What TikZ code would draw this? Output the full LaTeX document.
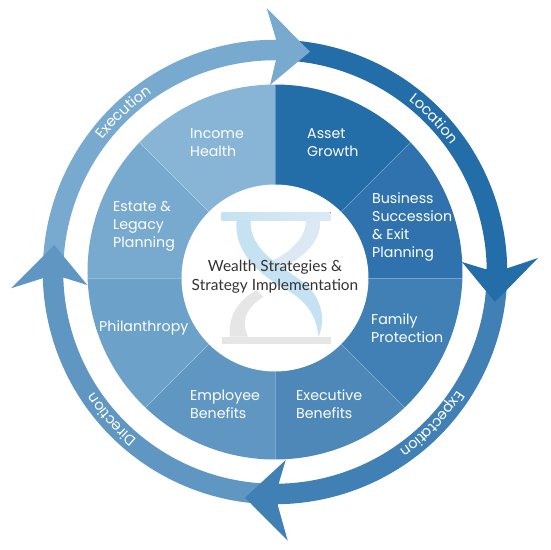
\documentclass[tikz,border=0pt]{standalone}
\usepackage{fontspec}
\usetikzlibrary{decorations.text}
\setmainfont{Lato}
\newfontfamily\labelfont{Poppins}
\definecolor{secasset}{HTML}{236DA8}
\definecolor{secbusiness}{HTML}{2F72AD}
\definecolor{secfamily}{HTML}{4080B5}
\definecolor{secexecutive}{HTML}{4D88B8}
\definecolor{secemployee}{HTML}{5F96C2}
\definecolor{secphilanthropy}{HTML}{6CA1C9}
\definecolor{secestate}{HTML}{78A9CF}
\definecolor{secincome}{HTML}{88B5D6}
\definecolor{glassblue}{HTML}{C5E2F2}
\definecolor{glasspale}{HTML}{DCE9F5}
\definecolor{glassgray}{HTML}{E6E6E6}
\begin{document}
\begin{tikzpicture}[x=1pt,y=1pt,
    seclabel/.style={anchor=west, inner sep=0pt, align=left, text=white, font=\labelfont\fontsize{14.2}{18}\selectfont},
    ringarc/.style={line width=20.5pt},
    ringtext/.style={decorate, decoration={text along path, text align=center, raise=-5pt, text={|\labelfont\fontsize{14.6}{18}\selectfont\color{white}|#1}}}]
    \useasboundingbox (-275,-272) rectangle (275,278);
    % Wedges
    \begin{scope}
        \clip (0,6) circle (187.5);
        \foreach \ang/\col in {45/secasset, 0/secbusiness, -45/secfamily, -90/secexecutive, -135/secemployee, -180/secphilanthropy, -225/secestate, -270/secincome}
            \fill[\col] (0,0) -- (\ang:300) -- (\ang+45:300) -- cycle;
        \foreach \ang in {0,45,...,315}
            \draw[white, opacity=0.28, line width=0.5pt] (0,0) -- (\ang:300);
    \end{scope}
    % Hourglass
    \fill[white] (0,0) circle (93.5);
    \fill[left color=glassblue, right color=glasspale] (-53.3,65.7) rectangle (55.7,58);
    \fill[glassgray] (-53.3,-58.7) rectangle (55.7,-66.3);
    \begin{scope}[shift={(-95,88)},x=0.3333pt,y=-0.3333pt]
        \fill[glasspale] (378,90) .. controls (380,140) and (330,190) .. (270,215)
            -- (300,240) .. controls (380,195) and (425,150) .. (420,90) -- cycle;
        \fill[glassgray] (150,440) .. controls (145,380) and (170,335) .. (230,300)
            -- (250,320) .. controls (190,360) and (185,400) .. (204,440) -- cycle;
        \fill[glassblue] (170,90) .. controls (160,180) and (230,250) .. (320,300)
            .. controls (385,335) and (410,385) .. (416,440)
            .. controls (432,400) and (435,340) .. (380,285)
            .. controls (330,240) and (205,190) .. (212,90) -- cycle;
    \end{scope}
    \node[inner sep=0pt, align=center, text=black!80, font=\fontsize{15.4}{19}\selectfont] (center) at (0,1.5) {Wealth Strategies \&\\Strategy Implementation};
    % Wedge labels
    \node[seclabel] (income) at (-85,135) {Income\\Health};
    \node[seclabel] (asset) at (32,135) {Asset\\Growth};
    \node[seclabel] (business) at (97,51) {Business\\Succession\\\& Exit\\Planning};
    \node[seclabel] (estate) at (-162,51.5) {Estate \&\\Legacy\\Planning};
    \node[seclabel] (philanthropy) at (-176,-49.5) {Philanthropy};
    \node[seclabel] (employee) at (-85,-126) {Employee\\Benefits};
    \node[seclabel] (executive) at (21,-126) {Executive\\Benefits};
    \node[seclabel] (family) at (96,-50) {Family\\Protection};
    % Ring
    \draw[ringarc, secestate] ([shift={(0,6)}]178:222) arc[start angle=178, end angle=86, radius=222pt];
    \draw[ringarc, secasset] ([shift={(0,6)}]88:222) arc[start angle=88, end angle=-4, radius=222pt];
    \draw[ringarc, secfamily] ([shift={(0,6)}]-2:222) arc[start angle=-2, end angle=-94, radius=222pt];
    \draw[ringarc, secemployee] ([shift={(0,6)}]-92:222) arc[start angle=-92, end angle=-184, radius=222pt];
    \fill[secestate] (-8.3,270) -- (35,226.3) -- (-5,193) -- (1,218) -- (1,239) -- cycle;
    \fill[secasset] (263,20) -- (220,-24) -- (187,16) -- (210,9) -- (230,9) -- cycle;
    \fill[secfamily] (12.7,-262.7) -- (-30,-219.7) -- (10.7,-182) -- (3,-208) -- (3,-228) -- cycle;
    \fill[secemployee] (-264,-10.3) -- (-220.7,33) -- (-187.7,-7) -- (-211,0.3) -- (-230.7,0.3) -- cycle;
    % Ring labels
    \path[ringtext=Execution] ([shift={(0,6)}]164.5:222) arc[start angle=164.5, end angle=102.5, radius=222pt];
    \path[ringtext=Location] ([shift={(0,6)}]74:222) arc[start angle=74, end angle=14, radius=222pt];
    \path[ringtext=Expectation] ([shift={(0,6)}]-9:222) arc[start angle=-9, end angle=-79, radius=222pt];
    \path[ringtext=Direction] ([shift={(0,6)}]-108:222) arc[start angle=-108, end angle=-168, radius=222pt];
\end{tikzpicture}
\end{document}
